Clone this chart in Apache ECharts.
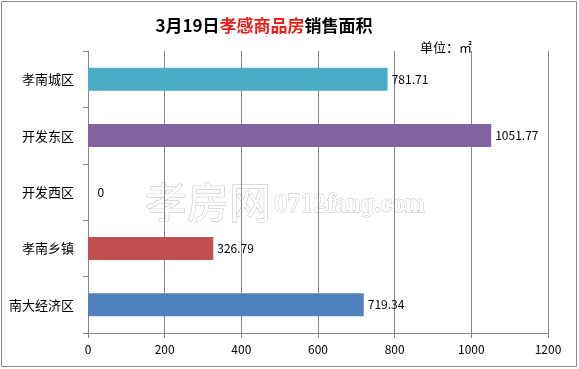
<!DOCTYPE html>
<html><head><meta charset="utf-8">
<script src="https://cdn.jsdelivr.net/npm/echarts@6/dist/echarts.min.js"></script>
<style>html,body{margin:0;padding:0;background:#fff}#c{width:579px;height:369px}</style>
</head><body><div id="c"></div>
<script>
var categories = ['孝南城区','开发东区','开发西区','孝南乡镇','南大经济区'];
var values = [781.71, 1051.77, 0, 326.79, 719.34];
var colors = ['#4BACC6','#8064A2','#8064A2','#C0504D','#4F81BD'];
var xTicks = [0,200,400,600,800,1000,1200];

var chart = echarts.init(document.getElementById('c'), null, {renderer:'canvas'});
var font = '"Microsoft YaHei","Noto Sans CJK SC",sans-serif';
chart.setOption({
  animation:false,
  backgroundColor:'#fff',
  graphic:[
    {type:'rect',shape:{x:1.5,y:1.5,width:575,height:365},style:{fill:'none',stroke:'#8a8a8a',lineWidth:1},z:-10},
    {type:'text',x:145,y:202,z:-5,style:{text:'孝房网',font:'42px "Noto Sans CJK SC",sans-serif',fill:'#fff',stroke:'#bdbdbd',lineWidth:1,textVerticalAlign:'middle'}},
    {type:'text',x:274,y:206,z:-5,scaleX:0.79,style:{text:'0712fang.com',font:'bold 24px "DejaVu Serif",serif',fill:'#fff',stroke:'#bdbdbd',lineWidth:1,textVerticalAlign:'middle'}},
    {type:'text',left:420,top:41,style:{text:'单位：㎡',font:'13px '+font,fill:'#000'}}
  ],
  title:{
    text:'{a|3月19日}{b|孝感商品房}{a|销售面积}',
    left:259,top:12,textAlign:'center',
    textStyle:{rich:{
      a:{fontSize:17,fontWeight:'bold',color:'#000',fontFamily:font},
      b:{fontSize:17,fontWeight:'bold',color:'#e8201a',fontFamily:font}
    }}
  },
  grid:{left:88,right:31,top:51,bottom:36,containLabel:false},
  xAxis:{
    type:'value',min:0,max:1200,interval:200,
    axisLine:{show:true,lineStyle:{color:'#868686'}},
    axisTick:{show:true,length:5,lineStyle:{color:'#868686'}},
    axisLabel:{color:'#000',fontSize:12,fontFamily:font,margin:10,formatter:function(v){return String(v);}},
    splitLine:{show:true,lineStyle:{color:'#868686',width:1}}
  },
  yAxis:{
    type:'category',data:categories,inverse:true,
    axisLine:{show:true,lineStyle:{color:'#868686'}},
    axisTick:{show:true,length:5,lineStyle:{color:'#868686'}},
    axisLabel:{color:'#000',fontSize:13,fontFamily:font,margin:14}
  },
  series:[{
    type:'bar',barWidth:23,
    data:values.map(function(v,i){return {value:v,itemStyle:{color:colors[i]}};}),
    label:{show:true,position:'right',distance:4,color:'#000',fontSize:12,fontFamily:font,
      formatter:function(p){return p.value===0?'  0':String(p.value);}}
  }]
});
</script></body></html>
